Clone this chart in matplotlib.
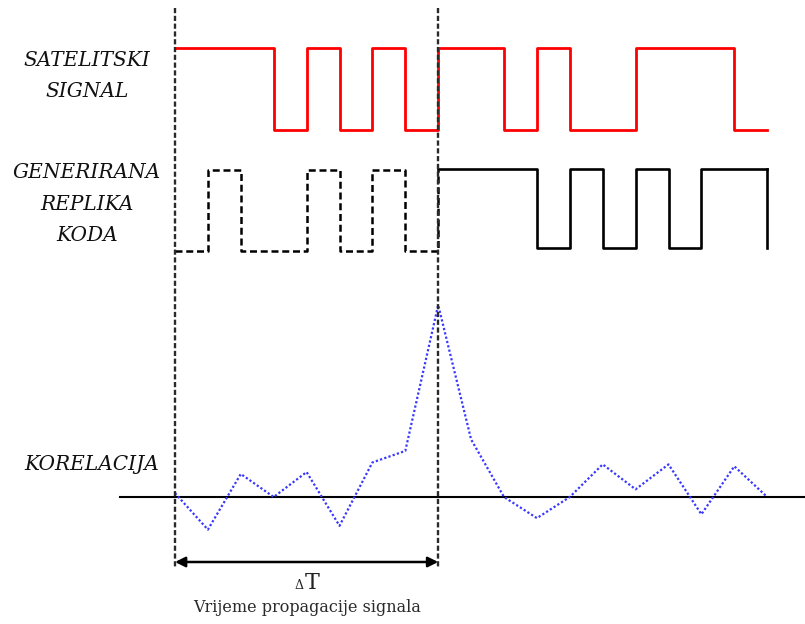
import matplotlib
matplotlib.use("Agg")
import matplotlib.pyplot as plt
import numpy as np

# ---- data ----
satellite_chips = [1, 1, 1, 0, 1, 0, 1, 0, 1, 1, 0, 1, 0, 0, 1, 1, 1, 0]
replica_dashed_chips = [0, 1, 0, 0, 1, 0, 1, 0]
replica_solid_chips = [1, 1, 1, 0, 1, 0, 1, 0, 1, 1]
correlation = [0.02, -0.17, 0.12, 0.0, 0.13, -0.15, 0.18, 0.24, 1.0, 0.30,
               0.0, -0.11, 0.0, 0.17, 0.04, 0.17, -0.09, 0.16, 0.0]
delay_chips = 8
labels = ["SATELITSKI\nSIGNAL", "GENERIRANA\nREPLIKA\nKODA", "KORELACIJA"]
delta_sym = "Δ"
delta_var = "T"
delay_caption = "Vrijeme propagacije signala"

# ---- layout (pixel-like y, chip-unit x) ----
px_per_chip = 32.9
x0_px = 175
fig = plt.figure(figsize=(8.05, 6.24), dpi=100)
ax = fig.add_axes([0, 0, 1, 1])
ax.set_xlim(-x0_px / px_per_chip, (805 - x0_px) / px_per_chip)
ax.set_ylim(624, 0)
ax.axis("off")

def levels(chips, hi, lo):
    return [hi if c else lo for c in chips]

# satellite signal
sat = levels(satellite_chips, 48, 130)
xs = np.arange(len(sat) + 1)
ax.step(xs, sat + [sat[-1]], where="post", color="#ff0000", lw=2.0)

# replica dashed
rd = levels(replica_dashed_chips, 170, 251)
xd = np.arange(len(rd) + 1)
ax.step(xd, rd + [170], where="post", color="black", lw=1.8,
        linestyle=(0, (2.8, 1.5)))
# replica solid
rs = levels(replica_solid_chips, 169, 248)
xsol = np.arange(delay_chips, delay_chips + len(rs) + 1)
ax.step(xsol, rs + [rs[-1]], where="post", color="black", lw=1.9)
ax.plot([xsol[-1], xsol[-1]], [rs[-1], 248], color="black", lw=1.9)

# correlation
base, scale = 497, 192
cx = np.arange(len(correlation))
ax.plot([(120 - x0_px) / px_per_chip, (805 - x0_px) / px_per_chip], [base, base],
        color="black", lw=1.5)
ax.plot(cx, base - scale * np.array(correlation), color="#3838ff", lw=1.6,
        linestyle=(0, (1, 1)))

# vertical dashed markers
for xv in [0, delay_chips]:
    ax.plot([xv, xv], [8, 567], color="#2a2a2a", lw=1.7,
            linestyle=(0, (2.2, 1.1)), zorder=5)

# arrow
ax.annotate("", xy=(0, 562), xytext=(delay_chips, 562),
            arrowprops=dict(arrowstyle="<|-|>", color="black", lw=1.8,
                            mutation_scale=15, shrinkA=0, shrinkB=0))

lab_x = (87 - x0_px) / px_per_chip
fkw = dict(family="DejaVu Serif", style="italic", fontsize=14.5, color="#111111",
           ha="center", va="center", linespacing=1.85)
ax.text(lab_x, 76, labels[0], **fkw)
ax.text(lab_x, 204, labels[1], **fkw)
ax.text((92 - x0_px) / px_per_chip, 464, labels[2], **fkw)

mid = delay_chips / 2
ax.text(mid - 0.1, 589, delta_sym, family="DejaVu Serif", fontsize=9,
        ha="right", va="baseline", color="#222222")
ax.text(mid - 0.05, 589, delta_var, family="DejaVu Serif", fontsize=16,
        ha="left", va="baseline", color="#222222")
ax.text(mid, 608, delay_caption, family="DejaVu Serif", fontsize=11.5,
        ha="center", va="center", color="#2a2a2a")

fig.savefig("out.png", dpi=100)
